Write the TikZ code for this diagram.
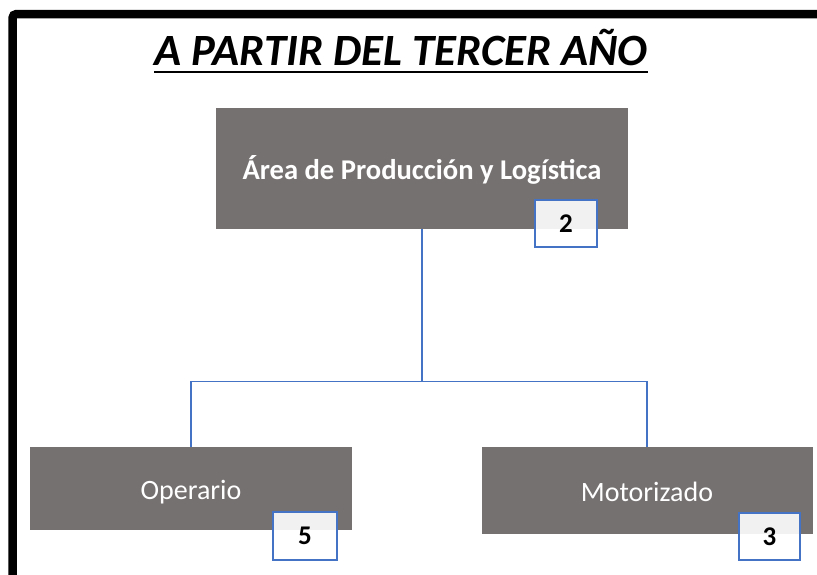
\documentclass[tikz,border=0pt]{standalone}
\usepackage{fontspec}
\setmainfont{Carlito}
\definecolor{boxgray}{HTML}{767171}
\definecolor{lineblue}{HTML}{4472C4}
\begin{document}
\begin{tikzpicture}[
	x=1pt, y=-1pt,
	% Define the styles for the boxes
	unitbox/.style={rectangle, fill=boxgray, inner sep=0pt, text=white,
		text height=22pt, text depth=0pt, font=\fontsize{28}{32}\selectfont},
	countbox/.style={rectangle, draw=lineblue, line width=1.2pt, fill=white, fill opacity=0.9,
		text opacity=1, inner sep=0pt, text height=17pt, text depth=0pt,
		font=\fontsize{27}{32}\selectfont\bfseries},
	link/.style={draw=lineblue, line width=1.8pt}
	]
	
	\useasboundingbox (0,0) rectangle (817,574);
	
	% --- FRAME ---
	\draw[line width=8.5pt, rounded corners=4pt] (12.5,590) -- (12.5,14) -- (830,14);
	
	% --- TITLE ---
	\node (title) at (401,65) [anchor=base, inner sep=0pt,
		font=\fontsize{44.7}{50}\selectfont\bfseries\itshape] {A PARTIR DEL TERCER AÑO};
	\draw[line width=2.5pt] ([yshift=-7pt]title.base west) -- ([yshift=-7pt]title.base east);
	
	% --- BOXES ---
	% Format: \node (internal_name) at (x,y) [size] {text};
	
	\node (area) at (422,168.5) [unitbox, minimum width=412pt, minimum height=121pt,
		font=\fontsize{28.6}{32}\selectfont\bfseries] {Área de Producción y Logística};
	\node (oper) at (191,488.5) [unitbox, minimum width=322pt, minimum height=83pt] {Operario};
	\node (moto) at (647,490.5) [unitbox, minimum width=331pt, minimum height=87pt] {Motorizado};
	
	% --- COUNTS ---
	\node (n-area) at (566,223.5) [countbox, minimum width=62pt, minimum height=47pt] {2};
	\node (n-oper) at (305,536) [countbox, minimum width=64pt, minimum height=48pt] {5};
	\node (n-moto) at (769.5,536.5) [countbox, minimum width=61pt, minimum height=47pt] {3};
	
	% --- LINKS ---
	\coordinate (split) at (422,381.5);
	
	\draw[link] (area.south) -- (split);
	\draw[link] (oper.north) |- (split);
	\draw[link] (moto.north) |- (split);
	
\end{tikzpicture}
\end{document}
